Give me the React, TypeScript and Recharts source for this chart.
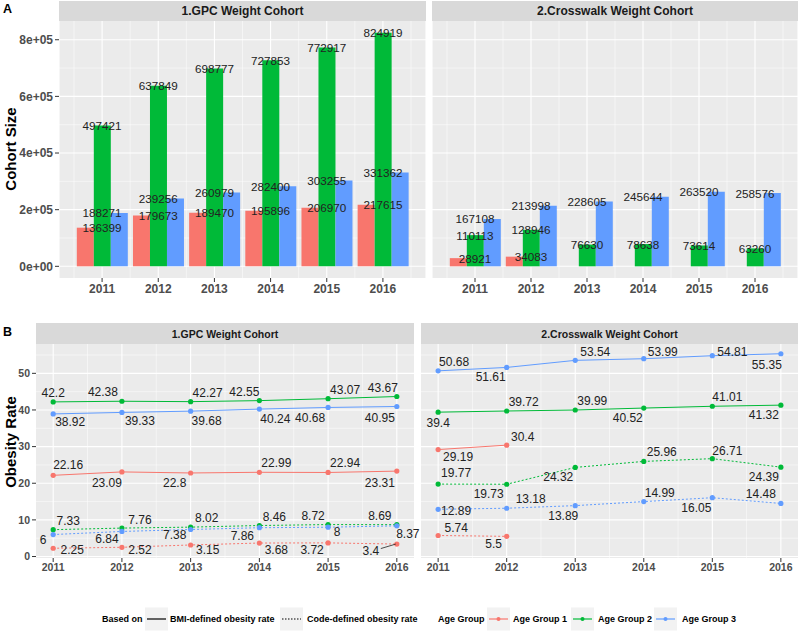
import React from 'react'
import { Bar, BarChart, CartesianGrid, Line, LineChart, ReferenceDot, XAxis, YAxis } from 'recharts'

const FONT = "'Liberation Sans', Arial, Helvetica, sans-serif"
const RED = '#F8766D'
const GREEN = '#00BA38'
const BLUE = '#619CFF'
const PANEL = '#ebebeb'
const STRIP = '#d9d9d9'

const years = [2011, 2012, 2013, 2014, 2015, 2016]

// A - cohort size
const gpcSize1 = [136399, 179673, 189470, 195896, 206970, 217615]
const gpcSize2 = [497421, 637849, 698777, 727853, 772917, 824919]
const gpcSize3 = [188271, 239256, 260979, 282400, 303255, 331362]
const cwSize1 = [28921, 34083, null, null, null, null]
const cwSize2 = [110113, 128946, 76630, 78638, 73614, 63260]
const cwSize3 = [167108, 213998, 228605, 245644, 263520, 258576]
const sizeTicks = [0, 200000, 400000, 600000, 800000]
const sizeMinor = [100000, 300000, 500000, 700000]

// B - obesity rate (bmi = solid, code = dotted)
const gpcBmi1 = [22.16, 23.09, 22.8, 22.99, 22.94, 23.31]
const gpcBmi2 = [42.2, 42.38, 42.27, 42.55, 43.07, 43.67]
const gpcBmi3 = [38.92, 39.33, 39.68, 40.24, 40.68, 40.95]
const gpcCode1 = [2.25, 2.52, 3.15, 3.68, 3.72, 3.4]
const gpcCode2 = [7.33, 7.76, 8.02, 8.46, 8.72, 8.69]
const gpcCode3 = [6, 6.84, 7.38, 7.86, 8, 8.37]
const cwBmi1 = [29.19, 30.4, null, null, null, null]
const cwBmi2 = [39.4, 39.72, 39.99, 40.52, 41.01, 41.32]
const cwBmi3 = [50.68, 51.61, 53.54, 53.99, 54.81, 55.35]
const cwCode1 = [5.74, 5.5, null, null, null, null]
const cwCode2 = [19.77, 19.73, 24.32, 25.96, 26.71, 24.39]
const cwCode3 = [12.89, 13.18, 13.89, 14.99, 16.05, 14.48]
const rateTicks = [0, 10, 20, 30, 40, 50]
const rateMinor = [5, 15, 25, 35, 45, 55]
const yearMinor = [2011.5, 2012.5, 2013.5, 2014.5, 2015.5]

// label nudges (px) for the repelled labels in B, [dx, dy, leader?]
const gpcBmi1Shift = [[15, -10], [-15, 11], [-16, 10], [17, -9], [17, -9], [-17, 12]]
const gpcBmi2Shift = [[0, -9], [-19, -9], [17, -9], [-15, -9], [17, -9], [-14, -9]]
const gpcBmi3Shift = [[17, 8], [18, 9], [16, 10], [16, 10], [-18, 11], [-17, 12]]
const gpcCode1Shift = [[19, 1.5], [18, 2.5], [17, 5], [17, 6.5], [-16, 7], [-26, 6.5, 1]]
const gpcCode2Shift = [[15, -9], [18, -8.5], [16, -9.5], [15, -9], [-15, -9], [-17, -9]]
const gpcCode3Shift = [[-10, 5], [-15, 8], [-16, 6], [-17, 8], [9, 5], [11, 8]]
const cwBmi1Shift = [[20, 7.5], [16, -8]]
const cwBmi2Shift = [[0, 11], [17, -9], [17, -9], [-16, 10], [15, -9], [-17, 10]]
const cwBmi3Shift = [[16, -9], [-16, 10], [20, -8], [19, -7], [20, -4], [-14, 11]]
const cwCode1Shift = [[18, -7], [-13, 8]]
const cwCode2Shift = [[18, -11], [-18, 10], [-17, 10], [18, -9], [15, -8], [-17, 10]]
const cwCode3Shift = [[18, 2], [24, -9], [-12, 10], [16, -9], [-16, 10], [-20, -9]]

type Series = { key: string; color: string; dashed: boolean; values: (number | null)[]; shift: number[][] }

const sci = (v: number) => (v === 0 ? '0e+00' : `${v / 100000}e+05`)

const sizeRows = (a: (number | null)[], b: (number | null)[], c: (number | null)[]) =>
    years.map((year, i) => ({ year, g1: a[i], g2: b[i], g3: c[i] }))

// minor vertical lines between the year bands (x axis pads 15px on each side)
const bandEdges = ({ offset }: any) => {
    const pad = 15
    const step = (offset.width - 2 * pad) / years.length
    return Array.from({ length: years.length + 1 }, (_, i) => offset.left + pad + i * step)
}

const tickStyle = { fill: '#4d4d4d', fontSize: 12, fontWeight: 'bold', fontFamily: FONT }
const rateTickStyle = { fill: '#4d4d4d', fontSize: 10.5, fontWeight: 'bold', fontFamily: FONT }

const SizeFacet = ({ rows, width, showY }: { rows: any[]; width: number; showY: boolean }) => (
    <BarChart barCategoryGap="5%" barGap={0} data={rows} height={284} margin={{ bottom: 0, left: 0, right: 0, top: 0 }} width={width}>
        <CartesianGrid fill={PANEL} horizontalValues={sizeMinor} stroke="#fff" strokeWidth={0.5} verticalCoordinatesGenerator={bandEdges} />
        <CartesianGrid fill="none" horizontalValues={sizeTicks} stroke="#fff" strokeWidth={1.1} />
        <XAxis axisLine={false} dataKey="year" height={27} interval={0} padding={{ left: 15, right: 15 }} tick={tickStyle} tickLine={{ stroke: '#333' }} tickSize={4} type="category" />
        <YAxis axisLine={false} domain={[-41246, 866165]} hide={!showY} tick={tickStyle} tickFormatter={sci} tickLine={{ stroke: '#333' }} tickSize={4} ticks={sizeTicks} type="number" width={showY ? 59 : 0} />
        <Bar dataKey="g1" fill={RED} isAnimationActive={false} />
        <Bar dataKey="g2" fill={GREEN} isAnimationActive={false} />
        <Bar dataKey="g3" fill={BLUE} isAnimationActive={false} />
        {rows.flatMap((r) =>
            ['g1', 'g2', 'g3']
                .filter((k) => r[k] != null)
                .map((k) => (
                    <ReferenceDot
                        ifOverflow="visible"
                        key={`${r.year}-${k}`}
                        r={0}
                        shape={(p: any) => (
                            <text dominantBaseline="central" fill="#222" fontFamily={FONT} fontSize={11.7} textAnchor="middle" x={p.cx} y={p.cy}>
                                {r[k]}
                            </text>
                        )}
                        x={r.year}
                        y={r[k]}
                    />
                ))
        )}
    </BarChart>
)

const RateLabel = ({ cx, cy, shift, text }: { cx: number; cy: number; shift: number[]; text: string }) => {
    const x = cx + shift[0]
    const y = cy + shift[1]
    return (
        <g>
            {shift[2] ? <line stroke="#222" strokeWidth={0.8} x1={x + 10} x2={cx - 1} y1={y - 2} y2={cy} /> : null}
            <text dominantBaseline="central" fill="#222" fontFamily={FONT} fontSize={12} textAnchor="middle" x={x} y={y}>
                {text}
            </text>
        </g>
    )
}

const RateFacet = ({ series, width, showY }: { series: Series[]; width: number; showY: boolean }) => {
    const rows = years.map((year, i) => {
        const r: any = { year }
        series.forEach((s) => (r[s.key] = s.values[i]))
        return r
    })
    return (
        <LineChart data={rows} height={238} margin={{ bottom: 0, left: 0, right: 0, top: 0 }} width={width}>
            <CartesianGrid fill={PANEL} horizontalValues={rateMinor} stroke="#fff" strokeWidth={0.5} verticalValues={yearMinor} />
            <CartesianGrid fill="none" horizontalValues={rateTicks} stroke="#fff" strokeWidth={1.1} verticalValues={years} />
            <XAxis axisLine={false} dataKey="year" domain={[2010.75, 2016.25]} height={24} interval={0} tick={rateTickStyle} tickLine={{ stroke: '#333' }} tickSize={4} ticks={years} type="number" />
            <YAxis axisLine={false} domain={[-0.405, 58.005]} hide={!showY} tick={rateTickStyle} tickLine={{ stroke: '#333' }} tickSize={4} ticks={rateTicks} type="number" width={showY ? 36 : 0} />
            {series.map((s) => (
                <Line
                    activeDot={false}
                    connectNulls={false}
                    dataKey={s.key}
                    dot={{ fill: s.color, r: 2.6, stroke: 'none', strokeDasharray: '' }}
                    isAnimationActive={false}
                    key={s.key}
                    stroke={s.color}
                    strokeDasharray={s.dashed ? '2 2' : undefined}
                    strokeWidth={1}
                    type="linear"
                />
            ))}
            {series.flatMap((s) =>
                s.values.map((v, i) =>
                    v == null ? null : (
                        <ReferenceDot
                            ifOverflow="visible"
                            key={`${s.key}-${i}`}
                            r={0}
                            shape={(p: any) => <RateLabel cx={p.cx} cy={p.cy} shift={s.shift[i]} text={String(v)} />}
                            x={years[i]}
                            y={v}
                        />
                    )
                )
            )}
        </LineChart>
    )
}

const gpcSeries: Series[] = [
    { color: RED, dashed: false, key: 'bmi1', shift: gpcBmi1Shift, values: gpcBmi1 },
    { color: GREEN, dashed: false, key: 'bmi2', shift: gpcBmi2Shift, values: gpcBmi2 },
    { color: BLUE, dashed: false, key: 'bmi3', shift: gpcBmi3Shift, values: gpcBmi3 },
    { color: RED, dashed: true, key: 'code1', shift: gpcCode1Shift, values: gpcCode1 },
    { color: GREEN, dashed: true, key: 'code2', shift: gpcCode2Shift, values: gpcCode2 },
    { color: BLUE, dashed: true, key: 'code3', shift: gpcCode3Shift, values: gpcCode3 },
]

const cwSeries: Series[] = [
    { color: RED, dashed: false, key: 'bmi1', shift: cwBmi1Shift, values: cwBmi1 },
    { color: GREEN, dashed: false, key: 'bmi2', shift: cwBmi2Shift, values: cwBmi2 },
    { color: BLUE, dashed: false, key: 'bmi3', shift: cwBmi3Shift, values: cwBmi3 },
    { color: RED, dashed: true, key: 'code1', shift: cwCode1Shift, values: cwCode1 },
    { color: GREEN, dashed: true, key: 'code2', shift: cwCode2Shift, values: cwCode2 },
    { color: BLUE, dashed: true, key: 'code3', shift: cwCode3Shift, values: cwCode3 },
]

const Strip = ({ left, top, width, height, size, label }: { left: number; top: number; width: number; height: number; size: number; label: string }) => (
    <div
        style={{
            alignItems: 'center',
            background: STRIP,
            color: '#1a1a1a',
            display: 'flex',
            fontFamily: FONT,
            fontSize: size,
            fontWeight: 'bold',
            height,
            justifyContent: 'center',
            left,
            position: 'absolute',
            top,
            width,
        }}
    >
        {label}
    </div>
)

const Key = ({ x, color, dashed, dot }: { x: number; color: string; dashed?: boolean; dot?: boolean }) => (
    <g>
        <rect fill="#f2f2f2" height={23} width={23} x={x} y={607.5} />
        <line stroke={color} strokeDasharray={dashed ? '1.5 1.5' : undefined} strokeWidth={dashed ? 1 : 1.2} x1={x + 2} x2={x + 21} y1={619} y2={619} />
        {dot ? <circle cx={x + 11.5} cy={619} fill={color} r={2} /> : null}
    </g>
)

const legendText = { dominantBaseline: 'central' as const, fill: '#000', fontFamily: FONT, fontSize: 9, fontWeight: 'bold' }

const Overlay = () => (
    <svg height={631} style={{ left: 0, position: 'absolute', top: 0 }} width={800}>
        <text dominantBaseline="central" fontFamily={FONT} fontSize={12.5} fontWeight="bold" x={3} y={9}>
            A
        </text>
        <text dominantBaseline="central" fontFamily={FONT} fontSize={12.5} fontWeight="bold" x={3} y={332}>
            B
        </text>
        <text dominantBaseline="central" fontFamily={FONT} fontSize={15} fontWeight="bold" textAnchor="middle" transform="translate(10,149) rotate(-90)">
            Cohort Size
        </text>
        <text dominantBaseline="central" fontFamily={FONT} fontSize={15} fontWeight="bold" textAnchor="middle" transform="translate(10,442) rotate(-90)">
            Obesity Rate
        </text>
        <text {...legendText} x={102} y={619}>
            Based on
        </text>
        <Key color="#000" x={145} />
        <text {...legendText} x={170} y={619}>
            BMI-defined obesity rate
        </text>
        <Key color="#000" dashed x={280} />
        <text {...legendText} x={307} y={619}>
            Code-defined obesity rate
        </text>
        <text {...legendText} x={438} y={619}>
            Age Group
        </text>
        <Key color={RED} dot x={487} />
        <text {...legendText} x={513} y={619}>
            Age Group 1
        </text>
        <Key color={GREEN} dot x={571} />
        <text {...legendText} x={598} y={619}>
            Age Group 2
        </text>
        <Key color={BLUE} dot x={654} />
        <text {...legendText} x={682} y={619}>
            Age Group 3
        </text>
    </svg>
)

export default function App() {
    return (
        <div style={{ background: '#fff', height: 631, left: 0, overflow: 'hidden', position: 'absolute', top: 0, width: 800 }}>
            <style>{'.recharts-surface { overflow: visible; } .recharts-wrapper { overflow: visible; }'}</style>
            <Overlay />
            <Strip height={20} label="1.GPC Weight Cohort" left={59} size={12} top={1} width={367} />
            <Strip height={20} label="2.Crosswalk Weight Cohort" left={432} size={12} top={1} width={366} />
            <div style={{ left: 0, position: 'absolute', top: 21 }}>
                <SizeFacet rows={sizeRows(gpcSize1, gpcSize2, gpcSize3)} showY width={426} />
            </div>
            <div style={{ left: 432, position: 'absolute', top: 21 }}>
                <SizeFacet rows={sizeRows(cwSize1, cwSize2, cwSize3)} showY={false} width={366} />
            </div>
            <Strip height={21} label="1.GPC Weight Cohort" left={36} size={10.5} top={323} width={378} />
            <Strip height={21} label="2.Crosswalk Weight Cohort" left={421} size={10.5} top={323} width={377} />
            <div style={{ left: 0, position: 'absolute', top: 344 }}>
                <RateFacet series={gpcSeries} showY width={414} />
            </div>
            <div style={{ left: 421, position: 'absolute', top: 344 }}>
                <RateFacet series={cwSeries} showY={false} width={377} />
            </div>
        </div>
    )
}
